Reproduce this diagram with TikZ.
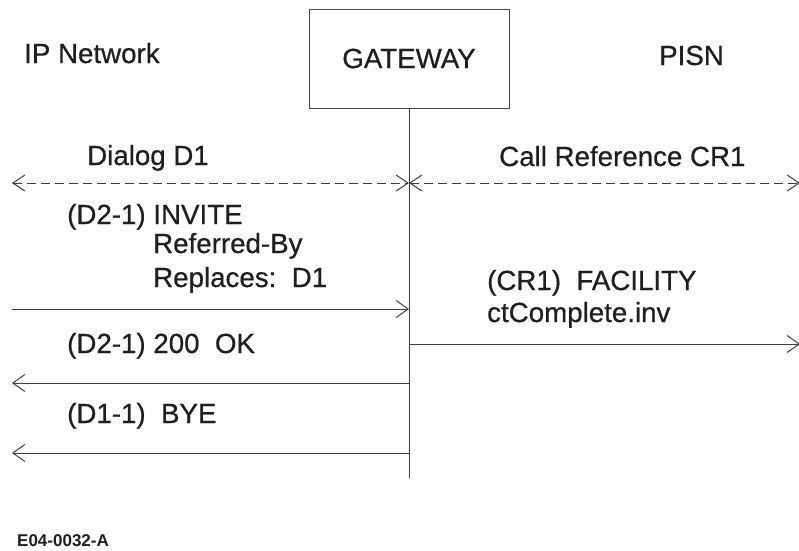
\documentclass[tikz,border=0pt]{standalone}
\usepackage{fontspec}
\setmainfont{Liberation Sans}
\newfontfamily\heavyfont{Liberation Sans}[FakeBold=0.5]
\usetikzlibrary{arrows.meta}
\begin{document}
\begin{tikzpicture}[x=1pt,y=-1pt,
  lbl/.style={anchor=base west, inner sep=0pt, font=\heavyfont\fontsize{27.7}{30}\selectfont, text=black!88},
  ln/.style={draw=black!75, line width=1pt},
  msg/.style={ln, -{Straight Barb[length=12pt,width=17pt]}},
  both/.style={ln, dash pattern=on 9pt off 5pt, {Straight Barb[length=12pt,width=16pt]}-{Straight Barb[length=12pt,width=16pt]}},
  gwbox/.style={draw=black!72, line width=1pt, minimum width=200pt, minimum height=99pt, inner sep=0pt, font=\heavyfont\fontsize{27.7}{30}\selectfont, text=black!88}
]
\useasboundingbox (0,0) rectangle (799,550);
\fill[white] (0,0) rectangle (799,550);

% headers
\node[lbl] (ipn) at (24,63) {IP Network};
\node[gwbox] (gw) at (409,58.5) {GATEWAY};
\node[lbl] (pisn) at (659,65) {PISN};

% lifeline
\coordinate (lend) at (409,478);
\draw[ln] (gw.south) -- (lend);

% coordinates on lifeline and edges
\coordinate (g1) at (409,183);
\coordinate (l1) at (12,183);
\coordinate (r1) at (800,183);
\coordinate (g2) at (409,309);
\coordinate (l2) at (12,309);
\coordinate (g3) at (409,344);
\coordinate (r3) at (800,344);
\coordinate (g4) at (409,383);
\coordinate (l4) at (12,383);
\coordinate (g5) at (409,453);
\coordinate (l5) at (12,453);

% dialog / call reference
\node[lbl] (dlg) at (87,165) {Dialog D1};
\node[lbl] (cref) at (499,166) {Call Reference CR1};
\draw[both] (l1) -- (g1);
\draw[both] (g1) -- (r1);

% INVITE
\node[lbl] (inv1) at (67,224) {(D2-1) INVITE};
\node[lbl] (inv2) at (153,253) {Referred-By};
\node[lbl] (inv3) at (153,287) {Replaces:\ \ D1};
\draw[msg] (l2) -- (g2);

% FACILITY
\node[lbl] (fac1) at (487,290) {(CR1)\ \ FACILITY};
\node[lbl] (fac2) at (487,322) {ctComplete.inv};
\draw[msg] (g3) -- (r3);

% 200 OK
\node[lbl] (ok) at (67,353) {(D2-1) 200\ \ OK};
\draw[msg] (g4) -- (l4);

% BYE
\node[lbl] (bye) at (67,423) {(D1-1)\ \ BYE};
\draw[msg] (g5) -- (l5);

% figure id
\node[anchor=base west, inner sep=0pt, font=\fontsize{17}{20}\selectfont\bfseries, text=black!88] (fid) at (17,546) {E04-0032-A};
\end{tikzpicture}
\end{document}
